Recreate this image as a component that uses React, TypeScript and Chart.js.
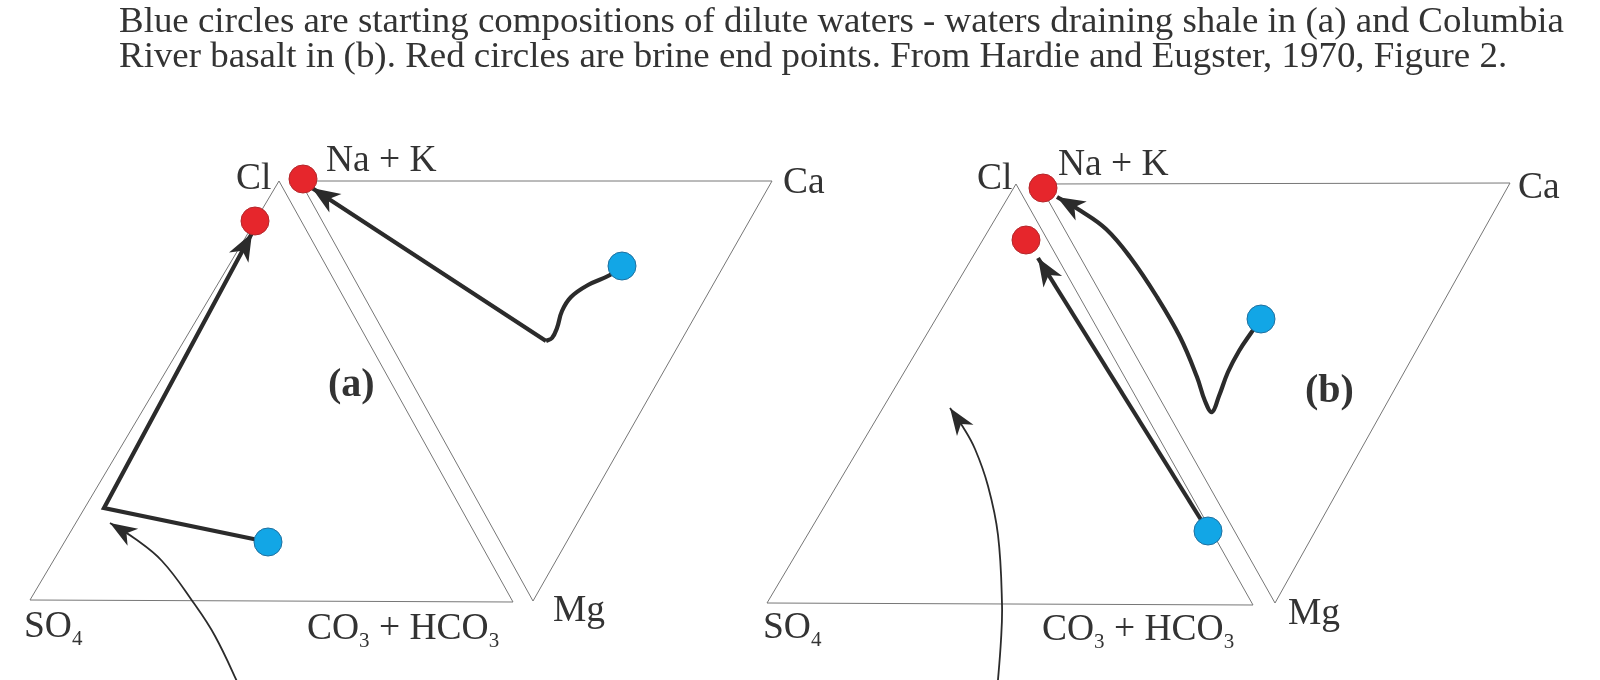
import React, { useEffect, useRef } from "react";
import { Chart, registerables } from "chart.js";

Chart.register(...registerables);

type P = [number, number];

// ---- caption ----
const captionLines = [
  "Blue circles are starting compositions of dilute waters - waters draining shale in (a) and Columbia",
  "River basalt in (b). Red circles are brine end points. From Hardie and Eugster, 1970, Figure 2.",
];

// ---- diagram outlines (diagram units) ----
const anionTriangleA: P[] = [[30, 600], [279, 181], [513, 602], [30, 600]];
const cationTriangleA: P[] = [[300, 181], [772, 181], [533, 601], [300, 181]];
const anionTriangleB: P[] = [[767, 603], [1016, 184], [1253, 605], [767, 603]];
const cationTriangleB: P[] = [[1039, 184], [1510, 183], [1275, 603], [1039, 184]];

// ---- compositions ----
const brineEndPoints: P[] = [[303, 179], [255, 221], [1043, 188], [1026, 240]];
const diluteWaters: P[] = [[622, 266], [268, 542], [1261, 319], [1208, 531]];

// ---- evolution paths ----
const pathA1: P[] = [[268, 542], [104, 508], [252, 233]];
const pathA2curve: P[] = [[622, 266], [610, 275], [588, 285], [571, 297], [562, 311], [557, 328], [552, 338], [546, 341]];
const pathA2line: P[] = [[546, 341], [312, 188]];
const pathB1: P[] = [[1208, 531], [1038, 258]];
const pathB2: P[] = [
  [1261, 319], [1251, 333], [1239, 351], [1228, 372], [1219, 396], [1212, 412],
  [1205, 401], [1197, 377], [1180, 337], [1157, 297], [1130, 257], [1106, 229], [1081, 211], [1057, 197],
];
const pointerA: P[] = [[242, 692], [215, 636], [193, 602], [162, 561], [134, 538], [110, 523]];
const pointerB: P[] = [[997, 692], [1001, 640], [1002, 604], [998, 535], [988, 486], [975, 449], [963, 427], [950, 408]];

// ---- labels ----
const labelTexts = ["Cl", "Na + K", "Ca", "Mg", "SO_4", "CO_3 + HCO_3", "(a)", "Cl", "Na + K", "Ca", "Mg", "SO_4", "CO_3 + HCO_3", "(b)"];
const labelX = [236, 326, 783, 553, 24, 307, 328, 977, 1058, 1518, 1288, 763, 1042, 1305];
const labelY = [189, 171, 193, 621, 637, 639, 396, 189, 175, 198, 624, 638, 640, 402];
const labelBold = [false, false, false, false, false, false, true, false, false, false, false, false, false, true];

const SERIF = '"Liberation Serif", "Times New Roman", Times, serif';
const TEXT_COLOR = "#333333";
const CAPTION_TARGET_WIDTH = 1445;

const toXY = (pts: P[]) => pts.map(([x, y]) => ({ x, y }));

function lineDs(pts: P[], color: string, width: number, tension: number, order: number, arrowHead?: any) {
  return {
    data: toXY(pts),
    showLine: true,
    borderColor: color,
    backgroundColor: color,
    borderWidth: width,
    pointRadius: 0,
    pointHoverRadius: 0,
    tension,
    fill: false,
    order,
    borderCapStyle: "butt",
    borderJoinStyle: "miter",
    arrowHead,
  } as any;
}

const arrowPlugin = {
  id: "arrowHeads",
  afterDatasetDraw(chart: any, args: any) {
    const ds: any = chart.data.datasets[args.index];
    if (!ds || !ds.arrowHead) return;
    const pts: any[] = args.meta.data;
    const tip = pts[pts.length - 1];
    let fx = tip.cp1x;
    let fy = tip.cp1y;
    if (fx === undefined || fy === undefined || Math.hypot(tip.x - fx, tip.y - fy) < 2) {
      const prev = pts[pts.length - 2];
      fx = prev.x;
      fy = prev.y;
    }
    const ang = Math.atan2(tip.y - fy, tip.x - fx);
    const { len, width, notch } = ds.arrowHead;
    const ctx = chart.ctx;
    ctx.save();
    ctx.translate(tip.x, tip.y);
    ctx.rotate(ang);
    ctx.beginPath();
    ctx.moveTo(0, 0);
    ctx.lineTo(-len, -width / 2);
    ctx.lineTo(-len * notch, 0);
    ctx.lineTo(-len, width / 2);
    ctx.closePath();
    ctx.fillStyle = ds.borderColor;
    ctx.fill();
    ctx.restore();
  },
};

const labelPlugin = {
  id: "diagramLabels",
  afterDraw(chart: any) {
    const ctx = chart.ctx;
    const xs = chart.scales.x;
    const ys = chart.scales.y;
    ctx.save();
    ctx.fillStyle = TEXT_COLOR;
    ctx.textAlign = "left";
    ctx.textBaseline = "alphabetic";
    labelTexts.forEach((txt, i) => {
      let px = xs.getPixelForValue(labelX[i]);
      const py = ys.getPixelForValue(labelY[i]);
      const bold = labelBold[i];
      const size = bold ? 40 : 37.5;
      const mainFont = `${bold ? "bold " : ""}${size}px ${SERIF}`;
      const subFont = `${Math.round(size * 0.55)}px ${SERIF}`;
      let k = 0;
      while (k < txt.length) {
        if (txt[k] === "_") {
          const ch = txt[k + 1];
          ctx.font = subFont;
          ctx.fillText(ch, px, py + 8);
          px += ctx.measureText(ch).width;
          k += 2;
        } else {
          let run = "";
          while (k < txt.length && txt[k] !== "_") {
            run += txt[k];
            k++;
          }
          ctx.font = mainFont;
          ctx.fillText(run, px, py);
          px += ctx.measureText(run).width;
        }
      }
    });
    ctx.restore();
  },
};

export default function App() {
  const canvasRef = useRef<HTMLCanvasElement>(null);
  const capRefs = useRef<(HTMLDivElement | null)[]>([]);

  useEffect(() => {
    document.body.style.margin = "0";
    // fit caption width (same factor for both lines)
    const first = capRefs.current[0];
    if (first) {
      capRefs.current.forEach((el) => el && (el.style.transform = "none"));
      const w = first.getBoundingClientRect().width;
      const s = w > 0 ? CAPTION_TARGET_WIDTH / w : 1;
      capRefs.current.forEach((el) => el && (el.style.transform = `scaleX(${s})`));
    }

    const outline = "#767676";
    const dark = "#2b2b2b";
    const thick = { len: 28, width: 22, notch: 0.72 };
    const thin = { len: 27, width: 20, notch: 0.72 };

    const datasets: any[] = [
      lineDs(anionTriangleA, outline, 1, 0, 3),
      lineDs(cationTriangleA, outline, 1, 0, 3),
      lineDs(anionTriangleB, outline, 1, 0, 3),
      lineDs(cationTriangleB, outline, 1, 0, 3),
      lineDs(pathA1, dark, 4.2, 0, 2, thick),
      lineDs(pathA2curve, dark, 4.2, 0.4, 2),
      lineDs(pathA2line, dark, 4.2, 0, 2, thick),
      lineDs(pathB1, dark, 4.2, 0, 2, thick),
      lineDs(pathB2, dark, 4.2, 0.4, 2, thick),
      lineDs(pointerA, dark, 1.8, 0.4, 2, thin),
      lineDs(pointerB, dark, 1.8, 0.4, 2, thin),
      {
        data: toXY(brineEndPoints),
        showLine: false,
        pointRadius: 14,
        pointHoverRadius: 14,
        pointBackgroundColor: "#e6262c",
        pointBorderColor: "#b3262a",
        pointBorderWidth: 1,
        order: 1,
      },
      {
        data: toXY(diluteWaters),
        showLine: false,
        pointRadius: 14,
        pointHoverRadius: 14,
        pointBackgroundColor: "#12a6e6",
        pointBorderColor: "#1f6f9e",
        pointBorderWidth: 1,
        order: 1,
      },
    ];

    const chart = new Chart(canvasRef.current as HTMLCanvasElement, {
      type: "scatter",
      data: { datasets },
      options: {
        animation: false,
        responsive: false,
        devicePixelRatio: 1,
        layout: { padding: 0, autoPadding: false },
        plugins: { legend: { display: false }, tooltip: { enabled: false }, title: { display: false } },
        events: [],
        scales: {
          x: { type: "linear", min: 0, max: 1600, display: false },
          y: { type: "linear", min: 0, max: 680, reverse: true, display: false },
        },
      } as any,
      plugins: [arrowPlugin, labelPlugin],
    });
    return () => chart.destroy();
  }, []);

  const captionTops = [3, 38];

  return (
    <div style={{ position: "relative", width: 1600, height: 680, background: "#ffffff", overflow: "hidden" }}>
      <canvas
        ref={canvasRef}
        width={1600}
        height={680}
        style={{ position: "absolute", left: 0, top: 0, width: 1600, height: 680 }}
      />
      {captionLines.map((t, i) => (
        <div
          key={i}
          ref={(el) => {
            capRefs.current[i] = el;
          }}
          style={{
            position: "absolute",
            left: 119,
            top: captionTops[i],
            fontFamily: SERIF,
            fontSize: 35,
            lineHeight: "35px",
            whiteSpace: "nowrap",
            color: TEXT_COLOR,
            transformOrigin: "0 0",
          }}
        >
          {t}
        </div>
      ))}
    </div>
  );
}
